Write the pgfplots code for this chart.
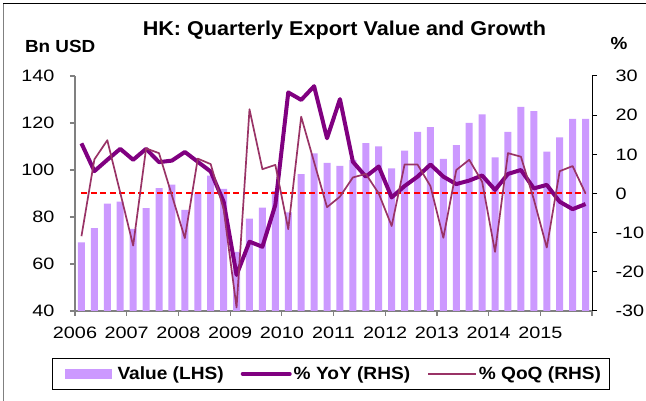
\documentclass[border=0pt]{standalone}
\usepackage{pgfplots}
\usepackage{pgfplotstable}
\pgfplotsset{compat=1.18}
\usepackage{fontspec}
\setmainfont{Liberation Sans}[FakeStretch=1.08]
\newfontfamily\tickfont{Liberation Sans}[FakeStretch=1.2]
\definecolor{barcol}{HTML}{CC99FF}
\definecolor{yoycol}{HTML}{800080}
\definecolor{qoqcol}{HTML}{993366}
\definecolor{axisgray}{HTML}{808080}

\pgfplotstableread{
x val yoy qoq
0 69.2 12.8 -10.9
1 75.3 5.7 8.7
2 85.7 8.6 13.6
3 86.5 11.4 0.2
4 74.9 8.6 -13.3
5 83.8 11.4 11.5
6 92.3 8.0 10.3
7 93.8 8.4 -0.5
8 83.0 10.6 -11.4
9 90.1 8.1 8.9
10 97.6 5.6 7.5
11 92.0 -2.1 -4.0
12 65.2 -20.8 -29.1
13 79.3 -12.3 21.5
14 84.0 -13.6 6.2
15 91.0 -2.9 7.3
16 82.0 25.8 -9.1
17 98.2 23.9 19.6
18 107.1 27.4 8.0
19 103.0 14.1 -3.5
20 101.7 24.1 -0.8
21 104.3 8.1 4.1
22 111.4 4.3 5.0
23 110.1 6.9 0.0
24 100.7 -1.0 -8.3
25 108.2 1.9 7.4
26 116.2 4.3 7.4
27 118.2 7.4 1.9
28 104.7 4.3 -11.3
29 110.6 2.4 6.0
30 120.0 3.3 8.6
31 123.7 4.6 3.0
32 105.4 0.9 -14.9
33 116.2 5.0 10.3
34 126.9 6.0 9.4
35 125.1 1.3 -1.5
36 107.8 2.2 -13.8
37 113.9 -2.1 5.7
38 121.8 -4.0 7.0
39 121.7 -2.7 0.0
}\datatable

\begin{document}
\begin{tikzpicture}
\useasboundingbox (0,0) rectangle (646pt,401pt);
\fill[white] (0,0) rectangle (646pt,401pt);
\draw[axisgray, line width=1.2pt] (3.3pt,0) -- (3.3pt,397pt);
\draw[black, line width=1pt] (3.3pt,397pt) -- (646pt,397pt);

\pgfplotsset{
  common/.style={
    at={(75pt,90pt)}, anchor=south west, scale only axis,
    width=517pt, height=235pt,
    xmin=-0.5, xmax=39.5,
    tick align=outside, major tick length=5pt,
    /pgf/number format/assume math mode=true,
    tick label style={font=\tickfont\fontsize{16.5}{18}\selectfont},
  }
}

\begin{axis}[common,
  ymin=40, ymax=140,
  axis x line*=bottom, axis y line*=left,
  axis line style={draw=axisgray, line width=1.2pt},
  tick style={draw=axisgray, line width=1.2pt},
  xtick={-0.5,3.5,7.5,11.5,15.5,19.5,23.5,27.5,31.5,35.5,39.5},
  xticklabels={2006,2007,2008,2009,2010,2011,2012,2013,2014,2015,},
  ytick={40,60,...,140},
  yticklabel style={xshift=-12pt},
  xticklabel style={yshift=-7pt},
  ybar, bar width=7pt,
]
\addplot[fill=barcol, draw=none] table[x=x, y=val] {\datatable};
\end{axis}

\begin{axis}[common,
  ymin=-30, ymax=30,
  axis x line=none, axis y line*=right,
  axis line style={draw=black, line width=1pt},
  tick style={draw=black, line width=1pt},
  ytick={-30,-20,...,30},
  yticklabel style={xshift=15pt},
  legend columns=3,
  legend style={at={(0.4947,-0.1987)}, anchor=north, draw=black, line width=1pt,
    font=\bfseries\fontsize{17.7}{20}\selectfont,
    inner xsep=6pt, inner ysep=6.5pt,
    /tikz/every even column/.append style={column sep=15pt},
    /tikz/every odd column/.append style={column sep=0pt}},
]
\addlegendimage{legend image code/.code={\path[draw=none, fill=none] (2pt,0pt) -- (59pt,0pt);\fill[barcol, draw=none] (8pt,-5pt) rectangle (55pt,5pt);}}
\addlegendentry{Value (LHS)}
\addplot[red, line width=2pt, dash pattern=on 6pt off 3.5pt, forget plot] coordinates {(0,0) (39,0)};
\addplot[yoycol, line width=4pt, line join=round,
  legend image code/.code={\draw[yoycol, line width=4pt, line cap=round] (1pt,0pt) -- (48pt,0pt);}]
  table[x=x, y=yoy] {\datatable};
\addlegendentry{\% YoY (RHS)}
\addplot[qoqcol, line width=1.7pt, line join=round,
  legend image code/.code={\draw[qoqcol, line width=1.7pt] (0pt,0pt) -- (48pt,0pt);}]
  table[x=x, y=qoq] {\datatable};
\addlegendentry{\% QoQ (RHS)}
\end{axis}

\node[anchor=base, inner sep=0] at (344.4pt,365pt) {\bfseries\fontsize{20}{24}\selectfont HK: Quarterly Export Value and Growth};
\node[anchor=base west, inner sep=0] at (24.8pt,348.3pt) {\bfseries\fontsize{17.5}{20}\selectfont Bn USD};
\node[anchor=base west, inner sep=0] at (610.5pt,351pt) {\bfseries\fontsize{17.5}{20}\selectfont \%};
\end{tikzpicture}
\end{document}
